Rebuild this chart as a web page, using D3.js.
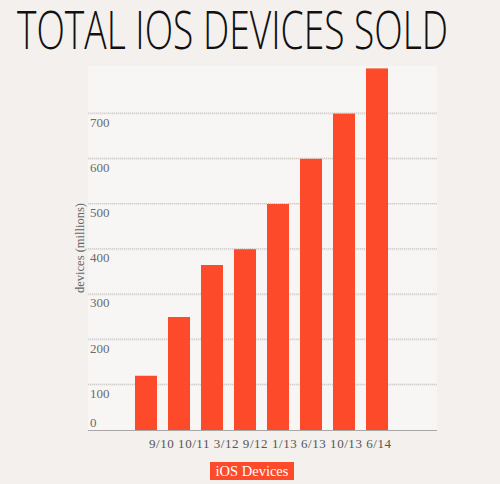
<!DOCTYPE html>
<html><head><meta charset="utf-8">
<script src="https://cdn.jsdelivr.net/npm/d3@7"></script>
<style>
html,body{margin:0;padding:0;background:#f3f0ed;}
svg{display:block;}
</style></head>
<body>
<svg id="chart" width="500" height="484"></svg>
<script>
const categories = ["9/10","10/11","3/12","9/12","1/13","6/13","10/13","6/14"];
const values = [120, 250, 365, 400, 500, 600, 700, 800];
const yTicks = [0,100,200,300,400,500,600,700];
const title = "TOTAL IOS DEVICES SOLD";
const yTitle = "devices (millions)";
const seriesName = "iOS Devices";

const svg = d3.select("#chart");
const plot = {left: 88, right: 437, top: 66, bottom: 430};
const red = "#fd4a2a";

svg.append("rect").attr("x",0).attr("y",0).attr("width",500).attr("height",484).attr("fill","#f3f0ed");
svg.append("rect").attr("x",plot.left).attr("y",plot.top)
  .attr("width",plot.right-plot.left).attr("height",plot.bottom-plot.top).attr("fill","#f7f6f4");

// title
svg.append("text").attr("x",17).attr("y",49)
  .attr("textLength",431).attr("lengthAdjust","spacingAndGlyphs")
  .attr("font-family","'Open Sans', sans-serif").attr("font-weight",300)
  .attr("font-size",53).attr("fill","#111").text(title);

const y = d3.scaleLinear().domain([0,800]).range([plot.bottom, plot.bottom - 361.6]);
const x = d3.scaleBand().domain(categories).range([129.5, 393.5]).paddingInner(0.333).paddingOuter(0.1665);

// gridlines
const grid = svg.append("g");
yTicks.filter(d=>d>0).forEach(v=>{
  grid.append("line").attr("x1",plot.left).attr("x2",plot.right).attr("y1",y(v)).attr("y2",y(v))
    .attr("stroke","#ebe8e4").attr("stroke-width",2);
  grid.append("line").attr("x1",plot.left).attr("x2",plot.right).attr("y1",y(v)-0.5).attr("y2",y(v)-0.5)
    .attr("stroke","#ccc9c5").attr("stroke-width",1).attr("stroke-dasharray","1,1");
});

// y tick labels
svg.append("g").selectAll("text").data(yTicks).join("text")
  .attr("x",90).attr("y",d=>Math.min(y(d)+13, y(0)-3))
  .attr("font-family","'Liberation Serif', serif").attr("font-size",13).attr("fill","#6a6a6a")
  .text(d=>d);

// bars
svg.append("g").selectAll("rect").data(values).join("rect")
  .attr("x",(d,i)=>x(categories[i])).attr("width",x.bandwidth())
  .attr("y",d=>y(d)).attr("height",d=>y(0)-y(d)).attr("fill",red);

// baseline axis
svg.append("line").attr("x1",plot.left).attr("x2",plot.right).attr("y1",plot.bottom+0.5).attr("y2",plot.bottom+0.5)
  .attr("stroke","#a9a6a3").attr("stroke-width",1);

// x tick labels as a flowing text line
svg.append("text").attr("x",149).attr("y",448).attr("xml:space","preserve")
  .attr("textLength",242).attr("lengthAdjust","spacing")
  .attr("font-family","'Liberation Serif', serif").attr("font-size",13).attr("fill","#555")
  .text(categories.join(" "));

// y axis title
svg.append("text").attr("transform","translate(84,248) rotate(-90)")
  .attr("text-anchor","middle").attr("font-family","'Liberation Serif', serif")
  .attr("font-size",12.5).attr("fill","#666").text(yTitle);

// legend
svg.append("rect").attr("x",210).attr("y",462).attr("width",84).attr("height",18).attr("fill",red);
svg.append("text").attr("x",252).attr("y",476).attr("text-anchor","middle")
  .attr("font-family","'Liberation Serif', serif").attr("font-size",14.5).attr("fill","#fff").text(seriesName);
</script>
</body></html>
